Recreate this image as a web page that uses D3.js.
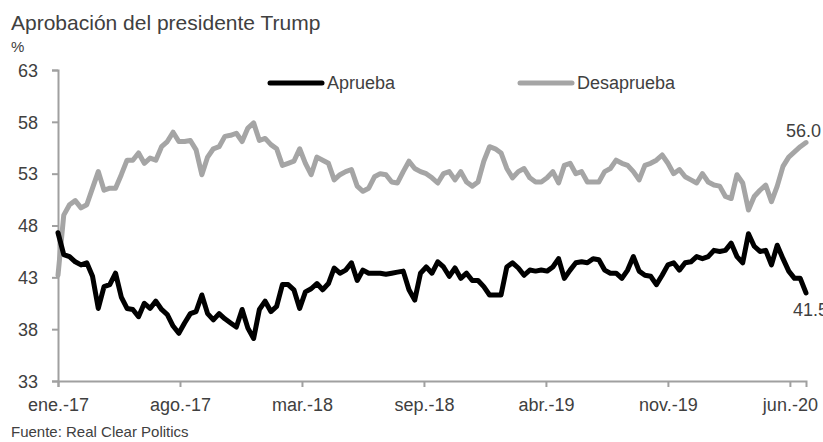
<!DOCTYPE html>
<html>
<head>
<meta charset="utf-8">
<script src="https://cdn.jsdelivr.net/npm/d3@7"></script>
<style>
  body { margin: 0; background: #fff; }
  svg text { font-family: "Liberation Sans", Arial, sans-serif; fill: #404040; }
</style>
</head>
<body>
<div id="chart"></div>
<script>
// Poll averages sampled every 10 days from the first point
const startDate = "2017-01-01"
const stepDays = 10

const aprueba = [
  47.3, 45.2, 45.0, 44.5, 44.2, 44.4, 43.1, 40.0, 42.1, 42.3,
  43.4, 41.1, 40.0, 39.9, 39.2, 40.5, 40.0, 40.7, 39.9, 39.4,
  38.3, 37.6, 38.6, 39.5, 39.7, 41.3, 39.5, 38.9, 39.5, 39.0,
  38.6, 38.2, 39.9, 38.1, 37.1, 39.9, 40.7, 39.7, 40.2, 42.3,
  42.3, 41.8, 40.0, 41.6, 41.9, 42.4, 41.8, 42.4, 43.9, 43.4,
  43.7, 44.4, 42.7, 43.7, 43.4, 43.4, 43.4, 43.3, 43.4, 43.5,
  43.6, 41.8, 40.8, 43.4, 44.0, 43.4, 44.5, 44.0, 43.1, 43.9,
  42.9, 43.4, 42.7, 42.7, 42.1, 41.3, 41.3, 41.3, 44.0, 44.4,
  43.9, 43.2, 43.7, 43.6, 43.7, 43.6, 44.0, 44.8, 42.9, 43.7,
  44.4, 44.5, 44.4, 44.8, 44.7, 43.7, 43.4, 43.4, 42.9, 43.7,
  45.0, 43.6, 43.2, 43.1, 42.3, 43.2, 44.2, 44.4, 43.7, 44.4,
  44.5, 45.0, 44.8, 45.0, 45.6, 45.5, 45.6, 46.3, 45.0, 44.4,
  47.2, 46.0, 45.5, 45.6, 44.2, 46.1, 44.8, 43.6, 42.9, 42.9,
  41.5
]

const desaprueba = [
  43.2, 49.0, 50.0, 50.4, 49.7, 50.0, 51.6, 53.2, 51.4, 51.6,
  51.6, 52.9, 54.3, 54.3, 55.0, 54.0, 54.5, 54.3, 55.6, 56.1,
  57.0, 56.1, 56.1, 56.2, 55.3, 52.9, 54.6, 55.4, 55.6, 56.6,
  56.7, 56.9, 56.1, 57.4, 57.9, 56.2, 56.4, 55.8, 55.4, 53.8,
  54.0, 54.2, 55.4, 54.0, 52.9, 54.6, 54.3, 54.0, 52.4, 52.9,
  53.2, 53.4, 51.8, 51.3, 51.6, 52.7, 53.0, 52.9, 52.2, 52.1,
  53.2, 54.2, 53.5, 53.2, 53.0, 52.6, 52.1, 53.0, 53.2, 52.4,
  53.2, 52.2, 51.8, 52.2, 54.2, 55.6, 55.4, 55.0, 53.5, 52.6,
  53.2, 53.5, 52.6, 52.2, 52.2, 52.6, 53.2, 52.1, 53.8, 54.0,
  53.0, 53.2, 52.2, 52.2, 52.2, 53.2, 53.5, 54.3, 54.0, 53.8,
  53.2, 52.4, 53.8, 54.0, 54.3, 54.8, 54.0, 53.0, 53.4, 52.7,
  52.4, 52.1, 53.0, 52.2, 51.9, 51.8, 50.8, 50.6, 52.9, 52.1,
  49.5, 50.8, 51.4, 51.9, 50.3, 51.8, 53.7, 54.6, 55.1, 55.6,
  56.0
]

const seriesNames = ["Aprueba", "Desaprueba"]
const seriesColors = ["#000000", "#a5a5a5"]

const yTicks = [33, 38, 43, 48, 53, 58, 63]
const xTickDates = ["2017-01-01", "2017-08-01", "2018-03-01", "2018-09-29", "2019-04-29", "2019-11-27", "2020-06-26"]
const xTickLabels = ["ene.-17", "ago.-17", "mar.-18", "sep.-18", "abr.-19", "nov.-19", "jun.-20"]

const titleText = "Aprobación del presidente Trump"
const unitText = "%"
const sourceText = "Fuente: Real Clear Politics"

class ApprovalChart {
  constructor(wrapper) {
    this.wrapper = d3.select(wrapper)
    this.dv = { xScale: null, yScale: null, lineGenerator: null, bounds: null }
    this.dimensions = {
      width: 823,
      height: 442,
      margin: { top: 70, right: 17, bottom: 61, left: 58 }
    }
    this.dimensions.boundedWidth = this.dimensions.width
      - this.dimensions.margin.left
      - this.dimensions.margin.right
    this.dimensions.boundedHeight = this.dimensions.height
      - this.dimensions.margin.top
      - this.dimensions.margin.bottom
    this.series = [aprueba, desaprueba].map((values, i) => ({
      name: seriesNames[i],
      color: seriesColors[i],
      points: values.map((v, j) => ({ date: d3.utcDay.offset(new Date(startDate), j * stepDays), value: v }))
    }))
  }

  draw() {
    this.setScales()
    this.drawFrame()
    this.drawAxes()
    this.drawLines()
    this.drawLegend()
  }

  setScales() {
    const dates = this.series[0].points.map(d => d.date)
    this.dv.xScale = d3.scaleUtc()
      .domain(d3.extent(dates))
      .range([0, this.dimensions.boundedWidth])
    this.dv.yScale = d3.scaleLinear()
      .domain([33, 63])
      .range([this.dimensions.boundedHeight, 0])
    this.dv.lineGenerator = d3.line()
      .x(d => this.dv.xScale(d.date))
      .y(d => this.dv.yScale(d.value))
  }

  drawFrame() {
    this.svg = this.wrapper.append("svg")
      .attr("width", this.dimensions.width)
      .attr("height", this.dimensions.height)

    this.svg.append("text")
      .attr("x", 11)
      .attr("y", 30)
      .style("font-size", "21px")
      .text(titleText)

    this.svg.append("text")
      .attr("x", 11)
      .attr("y", 52)
      .style("font-size", "15px")
      .text(unitText)

    this.svg.append("text")
      .attr("x", 11)
      .attr("y", 437)
      .style("font-size", "15px")
      .text(sourceText)

    this.dv.bounds = this.svg.append("g")
      .attr("transform", `translate(${this.dimensions.margin.left},${this.dimensions.margin.top})`)
  }

  drawAxes() {
    const yAxis = d3.axisLeft(this.dv.yScale)
      .tickValues(yTicks)
      .tickSize(6)
      .tickPadding(14)
    const xAxis = d3.axisBottom(this.dv.xScale)
      .tickValues(xTickDates.map(d => new Date(d)))
      .tickFormat((d, i) => xTickLabels[i])
      .tickSize(6)
      .tickPadding(11)

    const yG = this.dv.bounds.append("g").call(yAxis)
    const xG = this.dv.bounds.append("g")
      .attr("transform", `translate(0,${this.dimensions.boundedHeight})`)
      .call(xAxis)

    for (const g of [yG, xG]) {
      g.select(".domain").attr("stroke", "#a0a0a0").attr("stroke-width", 2)
      g.selectAll(".tick line").attr("stroke", "#a0a0a0").attr("stroke-width", 2)
      g.selectAll(".tick text")
        .attr("fill", "#404040")
        .style("font-family", "\"Liberation Sans\", Arial, sans-serif")
        .style("font-size", "18px")
    }
    yG.selectAll(".tick text").attr("dy", "0.35em")
  }

  drawLines() {
    // gray first so the black line sits on top
    const order = [this.series[1], this.series[0]]
    this.dv.bounds.selectAll(".series")
      .data(order)
      .join("path")
        .attr("class", "series")
        .attr("fill", "none")
        .attr("stroke", d => d.color)
        .attr("stroke-width", 5)
        .attr("stroke-linejoin", "round")
        .attr("stroke-linecap", "round")
        .attr("d", d => this.dv.lineGenerator(d.points))

    // end value labels
    const lastApp = this.series[0].points[this.series[0].points.length - 1]
    const lastDis = this.series[1].points[this.series[1].points.length - 1]
    this.dv.bounds.append("text")
      .attr("x", this.dv.xScale(lastDis.date) + 15)
      .attr("y", this.dv.yScale(lastDis.value) - 6)
      .attr("text-anchor", "end")
      .style("font-size", "18px")
      .text(lastDis.value.toFixed(1))
    this.dv.bounds.append("text")
      .attr("x", this.dv.xScale(lastApp.date) - 13)
      .attr("y", this.dv.yScale(lastApp.value) + 23)
      .style("font-size", "18px")
      .text(lastApp.value.toFixed(1))
  }

  drawLegend() {
    const legend = this.svg.append("g")
      .attr("transform", "translate(268,83)")
    const items = legend.selectAll("g")
      .data(this.series)
      .join("g")
        .attr("transform", (d, i) => `translate(${i * 250},0)`)
    items.append("line")
      .attr("x1", 2).attr("x2", 54)
      .attr("stroke", d => d.color)
      .attr("stroke-width", 5)
      .attr("stroke-linecap", "round")
    items.append("text")
      .attr("x", 59)
      .attr("dy", "0.35em")
      .style("font-size", "18px")
      .text(d => d.name)
  }
}

new ApprovalChart("#chart").draw()
</script>
</body>
</html>
